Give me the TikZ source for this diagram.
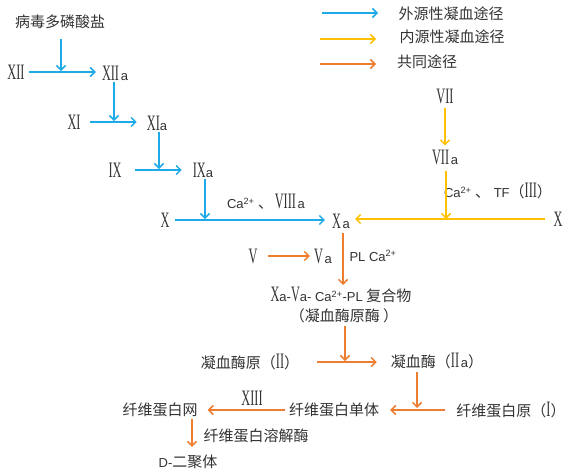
\documentclass[tikz,border=0pt]{standalone}
\usepackage{fontspec}
\usepackage{graphicx}
\setmainfont{Liberation Serif}
\newfontfamily\cjk{Noto Sans CJK SC}
\newfontfamily\lsans{Liberation Sans}
\usetikzlibrary{arrows.meta}
\definecolor{cblue}{RGB}{30,170,230}
\definecolor{cyel}{RGB}{255,192,0}
\definecolor{corg}{RGB}{237,125,49}
\newcommand\rn[1]{{\fontsize{22}{22}\selectfont\scalebox{0.56}[1]{#1}}}
\newcommand\sa[1]{{\lsans\fontsize{13}{13}\selectfont #1}}
\newcommand\zh[1]{{\cjk\fontsize{15}{15}\selectfont #1}}
\tikzset{
  lbl/.style={inner sep=1pt, text=black!80},
  arrbase/.style={line width=1.5pt, -{Straight Barb[length=4.5pt,width=9pt]}},
  bluearr/.style={arrbase, draw=cblue},
  yelarr/.style={arrbase, draw=cyel},
  orgarr/.style={arrbase, draw=corg}
}
\begin{document}
\begin{tikzpicture}[x=1pt,y=-1pt]
\useasboundingbox[fill=white] (0,0) rectangle (570,471);
% legend
\coordinate (l1s) at (322,13); \coordinate (l1e) at (378,13);
\coordinate (l2s) at (320,39); \coordinate (l2e) at (376,39);
\coordinate (l3s) at (320,64); \coordinate (l3e) at (376,64);
\draw[bluearr] (l1s) -- (l1e);
\draw[yelarr] (l2s) -- (l2e);
\draw[orgarr] (l3s) -- (l3e);
\node[lbl] (l1t) at (451,14) {\zh{外源性凝血途径}};
\node[lbl] (l2t) at (452,37) {\zh{内源性凝血途径}};
\node[lbl] (l3t) at (427,62) {\zh{共同途径}};
% blue pathway
\node[lbl] (virus) at (60,22) {\zh{病毒多磷酸盐}};
\node[lbl] (xii) at (16,72) {\rn{XII}};
\node[lbl] (xiia) at (115,73) {\rn{XII}\,\sa{a}};
\node[lbl] (xi) at (74,122) {\rn{XI}};
\node[lbl] (xia) at (157,123) {\rn{XI}\sa{a}};
\node[lbl] (ix) at (115,170) {\rn{IX}};
\node[lbl] (ixa) at (203,170) {\rn{IX}\sa{a}};
\node[lbl] (x) at (165,220) {\rn{X}};
\node[lbl] (xa) at (341,221) {\rn{X}\,\sa{a}};
\node[lbl] (ca8) at (266,202) {\sa{Ca\textsuperscript{2+} }\zh{、}\,\rn{VIII}\,\sa{a}};
\coordinate (j1) at (61,71);
\coordinate (j2) at (114,121);
\coordinate (j3) at (159,169);
\coordinate (j4) at (205,219);
\draw[bluearr, shorten <=3pt, shorten >=5pt] (xii.east) -- (xii.east -| xiia.west);
\draw[bluearr, shorten <=8pt, shorten >=9pt] (xi.east) -- (xi.east -| xia.west);
\draw[bluearr, shorten <=12pt, shorten >=10pt] (ix.east) -- (ix.east -| ixa.west);
\draw[bluearr, shorten <=4pt, shorten >=6pt] (x.east) -- (x.east -| xa.west);
\draw[bluearr, shorten <=9pt] (j1 |- virus.south) -- (j1);
\draw[bluearr, shorten <=1pt] (j2 |- xiia.south) -- (j2);
\draw[bluearr, shorten <=1pt] (j3 |- xia.south) -- (j3);
\draw[bluearr, shorten <=1pt] (j4 |- ixa.south) -- (j4);
% yellow pathway
\node[lbl] (vii) at (445,96) {\rn{VII}};
\node[lbl] (viia) at (445,157) {\rn{VII}\,\sa{a}};
\node[lbl] (xr) at (558,219) {\rn{X}};
\node[lbl] (tf) at (498,191) {\sa{Ca\textsuperscript{2+} }\zh{、}\sa{ TF}\zh{（}\rn{III}\zh{）}};
\coordinate (j7) at (446,219);
\draw[yelarr, shorten <=3pt, shorten >=3pt] (vii.south) -- (vii.south |- viia.north);
\draw[yelarr, shorten <=5pt] (j7 |- viia.south) -- (j7);
\draw[yelarr, shorten <=7pt, shorten >=4pt] (xr.west) -- (xr.west -| xa.east);
% common pathway
\node[lbl] (v) at (253,256) {\rn{V}};
\node[lbl] (va) at (323,256) {\rn{V}\,\sa{a}};
\node[lbl] (pl) at (373,256) {\sa{PL Ca\textsuperscript{2+}}};
\node[lbl] (cplx) at (341,295) {\rn{X}\sa{a-}\rn{V}\sa{a- Ca\textsuperscript{2+}-PL }\zh{复合物}};
\node[lbl] (pase) at (344,316) {\zh{（凝血酶原酶 ）}};
\node[lbl] (pro) at (250,362) {\zh{凝血酶原（}\rn{II}\zh{）}};
\node[lbl] (thr) at (437,361) {\zh{凝血酶（}\rn{II}\,\sa{a}\zh{）}};
\node[lbl] (fib) at (511,410) {\zh{纤维蛋白原（}\rn{I}\zh{）}};
\node[lbl] (mono) at (334,410) {\zh{纤维蛋白单体}};
\node[lbl] (net) at (160,410) {\zh{纤维蛋白网}};
\node[lbl] (xiii) at (252,398) {\rn{XIII}};
\node[lbl] (lys) at (256,436) {\zh{纤维蛋白溶解酶}};
\node[lbl] (dd) at (188,462) {\sa{D-}\zh{二聚体}};
\coordinate (j5) at (345,361);
\coordinate (j6) at (417,408);
\coordinate (k8) at (192,0);
\coordinate (kx) at (343,0);
\draw[orgarr, shorten <=9pt, shorten >=3pt] (v.east) -- (v.east -| va.west);
\draw[orgarr, shorten <=4pt, shorten >=1pt] (kx |- xa.south) -- (kx |- cplx.north);
\draw[orgarr, shorten <=2pt] (j5 |- pase.south) -- (j5);
\draw[orgarr, shorten <=17pt, shorten >=13pt] (pro.east) -- (pro.east -| thr.west);
\draw[orgarr, shorten <=2pt] (j6 |- thr.south) -- (j6);
\draw[orgarr, shorten <=10pt, shorten >=10pt] (fib.west) -- (fib.west -| mono.east);
\draw[orgarr, shorten <=3pt, shorten >=9pt] (mono.west) -- (mono.west -| net.east);
\draw[orgarr, shorten <=1pt, shorten >=7pt] (k8 |- net.south) -- (k8 |- dd.north);
\end{tikzpicture}
\end{document}
